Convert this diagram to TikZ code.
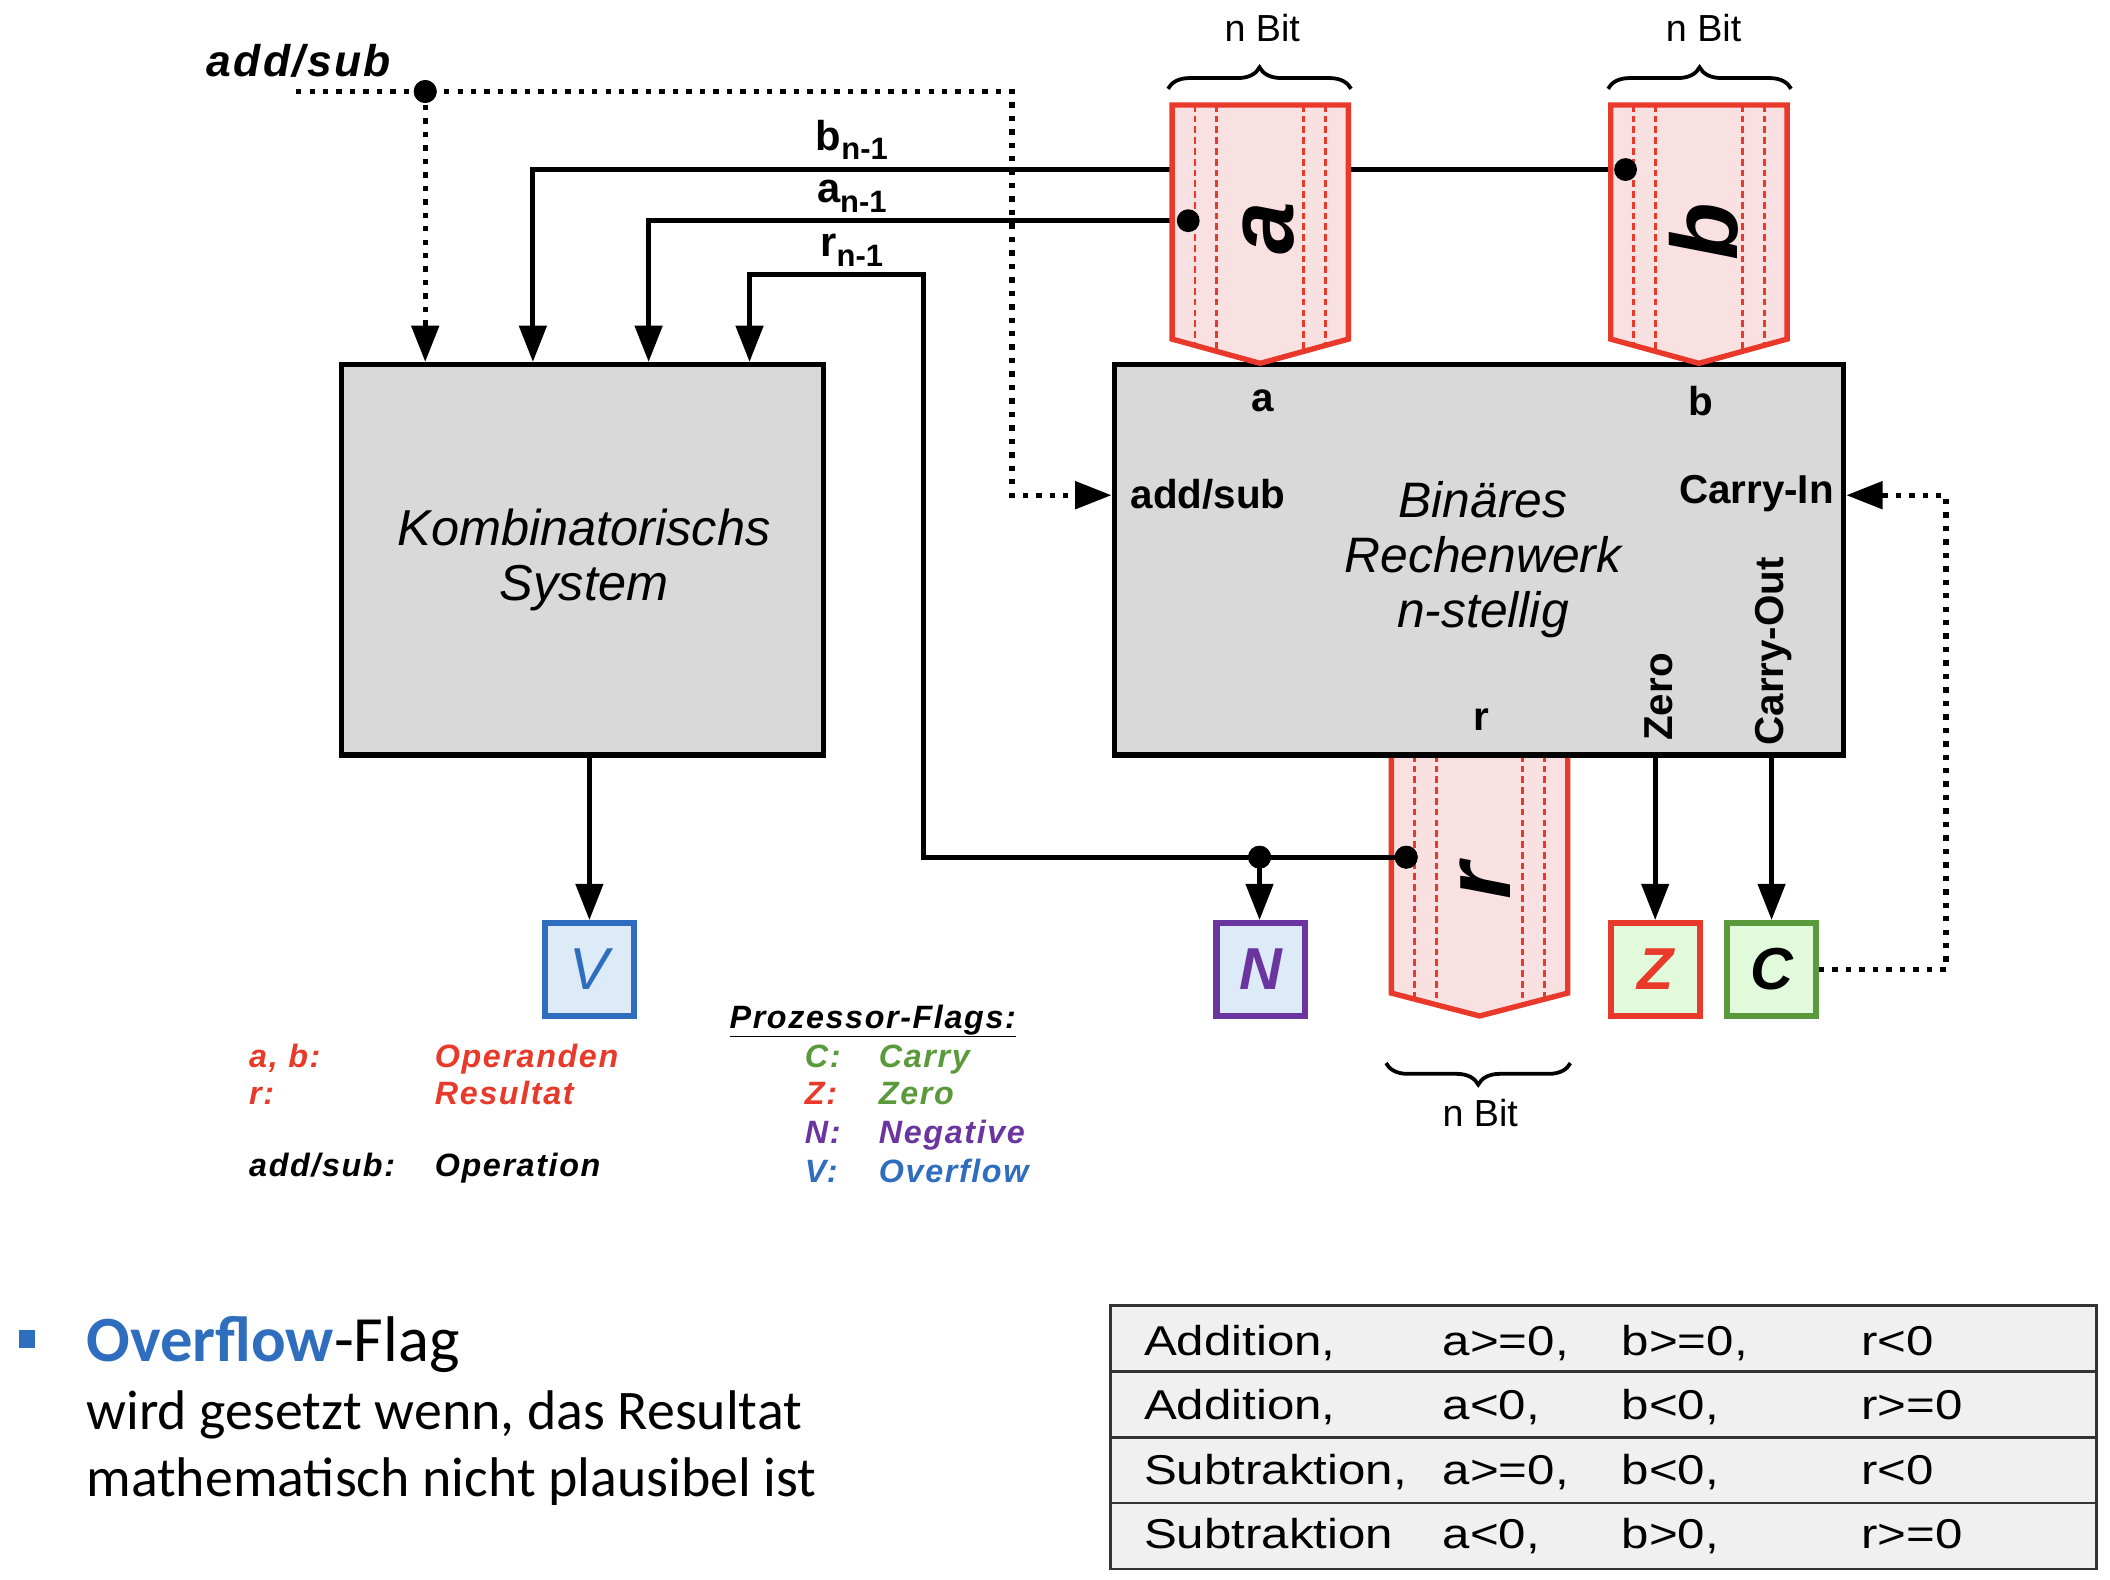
\documentclass[tikz,border=0pt]{standalone}
\usepackage{fontspec}
\setmainfont{Liberation Sans}
\newfontfamily\calfont{Carlito}
\newfontfamily\tabfont[FakeStretch=1.18]{Liberation Sans}
\newfontfamily\legfont[LetterSpace=5]{Liberation Sans}
\usetikzlibrary{arrows.meta,decorations.pathreplacing}
\definecolor{myred}{HTML}{E8392A}
\definecolor{pinkfill}{HTML}{F9E1E1}
\definecolor{boxgray}{HTML}{D9D9D9}
\definecolor{myblue}{HTML}{2F6EBE}
\definecolor{lblue}{HTML}{DDEBF9}
\definecolor{mypurple}{HTML}{6B35A0}
\definecolor{mygreen}{HTML}{5A9A3C}
\definecolor{lgreen}{HTML}{E2FADC}
\definecolor{tabgray}{HTML}{F0F0F0}
\definecolor{tabline}{HTML}{333333}
\newcommand{\setfs}[2]{\fontsize{#1}{#2}\selectfont}
\newcommand{\busshape}[5]{%
  \pgfmathsetmacro\bw{#2-#1}%
  \begin{scope}
    \clip (#1,#3) -- (#2,#3) -- (#2,#4) -- ({(#1+#2)/2},#5) -- (#1,#4) -- cycle;
    \fill[pinkfill] (#1,#3) rectangle (#2,#5);
    \foreach \f in {0.13,0.254,0.746,0.87}
      \draw[myred, line width=2.2pt, dash pattern=on 5pt off 3pt] ({#1+\f*\bw},#3) -- ({#1+\f*\bw},#5);
  \end{scope}
  \draw[myred, line width=4pt, line join=miter] (#1,#3) -- (#2,#3) -- (#2,#4) -- ({(#1+#2)/2},#5) -- (#1,#4) -- cycle;
}
\begin{document}
\begin{tikzpicture}[x=1pt,y=-1pt,
  >={Triangle[length=27pt,width=20pt]},
  wire/.style={line width=3.8pt},
  dotline/.style={line width=4pt, dash pattern=on 4pt off 6pt},
  graybox/.style={draw, line width=4pt, fill=boxgray, inner sep=0pt},
  flagbox/.style={line width=4.5pt, minimum width=66pt, minimum height=69pt, inner sep=0pt, font=\setfs{44}{50}\bfseries\itshape},
  jdot/.style={circle, fill=black, inner sep=0pt, minimum size=17pt},
  lbl/.style={inner sep=0pt, font=\setfs{30}{34}\bfseries},
  wlbl/.style={inner sep=0pt, font=\setfs{31}{34}\bfseries},
  bigl/.style={inner sep=0pt, rotate=90, font=\setfs{70}{72}\bfseries\itshape},
  nbit/.style={inner sep=0pt, font=\setfs{28}{30}},
  brc/.style={decorate, decoration={brace, amplitude=16pt}, line width=2.8pt},
  leg/.style={inner sep=0pt, anchor=base west, font=\setfs{24}{26}\legfont\bfseries\itshape},
  tab/.style={inner sep=0pt, anchor=base west, font=\setfs{31}{34}\tabfont},
  bot/.style={inner sep=0pt, anchor=base west, font=\setfs{41.5}{48}\calfont}
]
\useasboundingbox (0,0) rectangle (1568,1174);

% ---------- table ----------
\node[draw=tabline, fill=tabgray, line width=2pt, minimum width=733pt, minimum height=196pt, inner sep=0pt] (tbl) at (1191.5,1068) {};
\draw[tabline, line width=2pt] (tbl.west |- 0,1019) -- (tbl.east |- 0,1019);
\draw[tabline, line width=2pt] (tbl.west |- 0,1068) -- (tbl.east |- 0,1068);
\draw[tabline, line width=2pt] (tbl.west |- 0,1117) -- (tbl.east |- 0,1117);
\node[tab] (t11) at (850,1007) {Addition,};
\node[tab] (t12) at (1072,1007) {a>=0,};
\node[tab] (t13) at (1205,1007) {b>=0,};
\node[tab] (t14) at (1383,1007) {r<0};
\node[tab] (t21) at (850,1055) {Addition,};
\node[tab] (t22) at (1072,1055) {a<0,};
\node[tab] (t23) at (1205,1055) {b<0,};
\node[tab] (t24) at (1383,1055) {r>=0};
\node[tab] (t31) at (850,1103) {Subtraktion,};
\node[tab] (t32) at (1072,1103) {a>=0,};
\node[tab] (t33) at (1205,1103) {b<0,};
\node[tab] (t34) at (1383,1103) {r<0};
\node[tab] (t41) at (850,1151) {Subtraktion};
\node[tab] (t42) at (1072,1151) {a<0,};
\node[tab] (t43) at (1205,1151) {b>0,};
\node[tab] (t44) at (1383,1151) {r>=0};

% ---------- bottom text ----------
\node[fill=myblue, minimum width=12pt, minimum height=13pt, inner sep=0pt] (bullet) at (20,995) {};
\node[bot, font=\setfs{48}{50}\calfont] (ovf) at (64,1012) {\textcolor{myblue}{\bfseries Overflow}-Flag};
\node[bot] (ovf2) at (64,1062) {wird gesetzt wenn, das Resultat};
\node[bot] (ovf3) at (64,1112) {mathematisch nicht plausibel ist};

% ---------- legend ----------
\node[leg, myred] (l1) at (185,793) {a, b:};
\node[leg, myred] (l1b) at (323,793) {Operanden};
\node[leg, myred] (l2) at (185,821) {r:};
\node[leg, myred] (l2b) at (323,821) {Resultat};
\node[leg] (l3) at (185,874) {add/sub:};
\node[leg] (l3b) at (323,874) {Operation};
\node[leg] (pf) at (542,764) {\underline{Prozessor-Flags:}};
\node[leg, mygreen] (fc) at (598,793) {C:};
\node[leg, mygreen] (fcb) at (653,793) {Carry};
\node[leg, myred] (fz) at (598,821) {Z:};
\node[leg, mygreen] (fzb) at (653,821) {Zero};
\node[leg, mypurple] (fn) at (598,850) {N:};
\node[leg, mypurple] (fnb) at (653,850) {Negative};
\node[leg, myblue] (fv) at (598,879) {V:};
\node[leg, myblue] (fvb) at (653,879) {Overflow};

% ---------- flags ----------
\node[flagbox, draw=myblue, fill=lblue, text=myblue, font=\setfs{44}{50}\itshape] (V) at (438,720.5) {V};
\node[flagbox, draw=mypurple, fill=lblue, text=mypurple] (N) at (937,720.5) {N};
\node[flagbox, draw=myred, fill=lgreen, text=myred] (Z) at (1230,720.5) {Z};
\node[flagbox, draw=mygreen, fill=lgreen, text=black] (C) at (1316.5,720.5) {C};

% ---------- boxes ----------
\node[graybox, minimum width=358pt, minimum height=290pt] (komb) at (433,416) {};
\node[inner sep=0pt, align=center, font=\setfs{37.5}{41}\itshape] (kombtxt) at (434,416) {Kombinatorischs\\System};
\busshape{1034}{1165}{561}{738}{755}
\node[graybox, minimum width=542pt, minimum height=290pt] (alu) at (1099,416) {};
\node[inner sep=0pt, align=center, font=\setfs{37}{41}\itshape] (alutxt) at (1102,416) {Binäres\\Rechenwerk\\n-stellig};

% ---------- junction dots (named) ----------
\node[jdot] (bd) at (1208,126) {};
\node[jdot] (ad) at (883,164) {};
\node[jdot] (rd) at (1045,637) {};
\node[jdot] (nd) at (936,637) {};
\node[jdot] (asd) at (316,68) {};

% ---------- wires ----------
\coordinate (bturn) at (396,126);
\coordinate (aturn) at (482,164);
\coordinate (r1) at (686,637);
\coordinate (r2) at (686,204);
\coordinate (r3) at (557,204);
\draw[wire,->] (bd.center) -- (bturn) -- (bturn |- komb.north);
\draw[wire,->] (ad.center) -- (aturn) -- (aturn |- komb.north);
\draw[wire,->] (rd.center) -- (r1) -- (r2) -- (r3) -- (r3 |- komb.north);
\draw[wire,->] (nd.center) -- (nd.center |- N.north);
\draw[wire,->] (V.north |- komb.south) -- (V.north);
\draw[wire,->] (Z.north |- alu.south) -- (Z.north);
\draw[wire,->] (C.north |- alu.south) -- (C.north);

% ---------- bus shapes a, b ----------
\busshape{871}{1002}{78}{252}{270}
\busshape{1197}{1328}{78}{252}{270}
\node[bigl] (abig) at (943,170) {a};
\node[bigl] (bbig) at (1266,172) {b};
\node[bigl] (rbig) at (1104,655) {r};

% redraw dots on top of shapes
\node[jdot] at (bd.center) {};
\node[jdot] at (ad.center) {};
\node[jdot] at (rd.center) {};
\node[jdot] at (nd.center) {};

% ---------- braces ----------
\draw[brc] (868,66) -- (1004,66);
\draw[brc] (1195,66) -- (1331,66);
\draw[brc] (1167,790) -- (1030,790);
\node[nbit] (nb1) at (938,21) {n Bit};
\node[nbit] (nb2) at (1266,21) {n Bit};
\node[nbit] (nb3) at (1100,827) {n Bit};

% ---------- labels ----------
\node[wlbl] (lbn) at (633,104) {b\raisebox{-7pt}{\setfs{23}{23}n-1}};
\node[wlbl] (lan) at (633,146) {a\raisebox{-7pt}{\setfs{23}{23}n-1}};
\node[wlbl] (lrn) at (633,186) {r\raisebox{-7pt}{\setfs{23}{23}n-1}};
\node[lbl] (la) at (938,298) {a};
\node[lbl] (lb) at (1264,298) {b};
\node[lbl, anchor=west] (laddsub) at (840,367) {add/sub};
\node[lbl, anchor=east] (lcin) at (1363,367) {Carry-In};
\node[lbl] (lr) at (1101,535) {r};
\node[lbl, rotate=90] (lzero) at (1233,518) {Zero};
\node[lbl, rotate=90] (lcout) at (1318,484) {Carry-Out};
\node[inner sep=0pt, font=\setfs{33}{36}\legfont\bfseries\itshape] (astitle) at (222,45) {add/sub};

% ---------- dotted control lines ----------
\coordinate (asL) at (220,68);
\coordinate (asR) at (752,68);
\coordinate (asD) at (752,368);
\coordinate (cR) at (1446,716);
\coordinate (cT) at (1446,368);
\draw[dotline,->] (asL) -- (asR) -- (asD) -- (alu.west |- asD);
\draw[dotline,->] (asd.center) -- (asd.center |- komb.north);
\draw[dotline,->] (C.east) -- (C.east -| cR) -- (cT) -- (alu.east |- cT);
\node[jdot] at (asd.center) {};
\end{tikzpicture}
\end{document}
